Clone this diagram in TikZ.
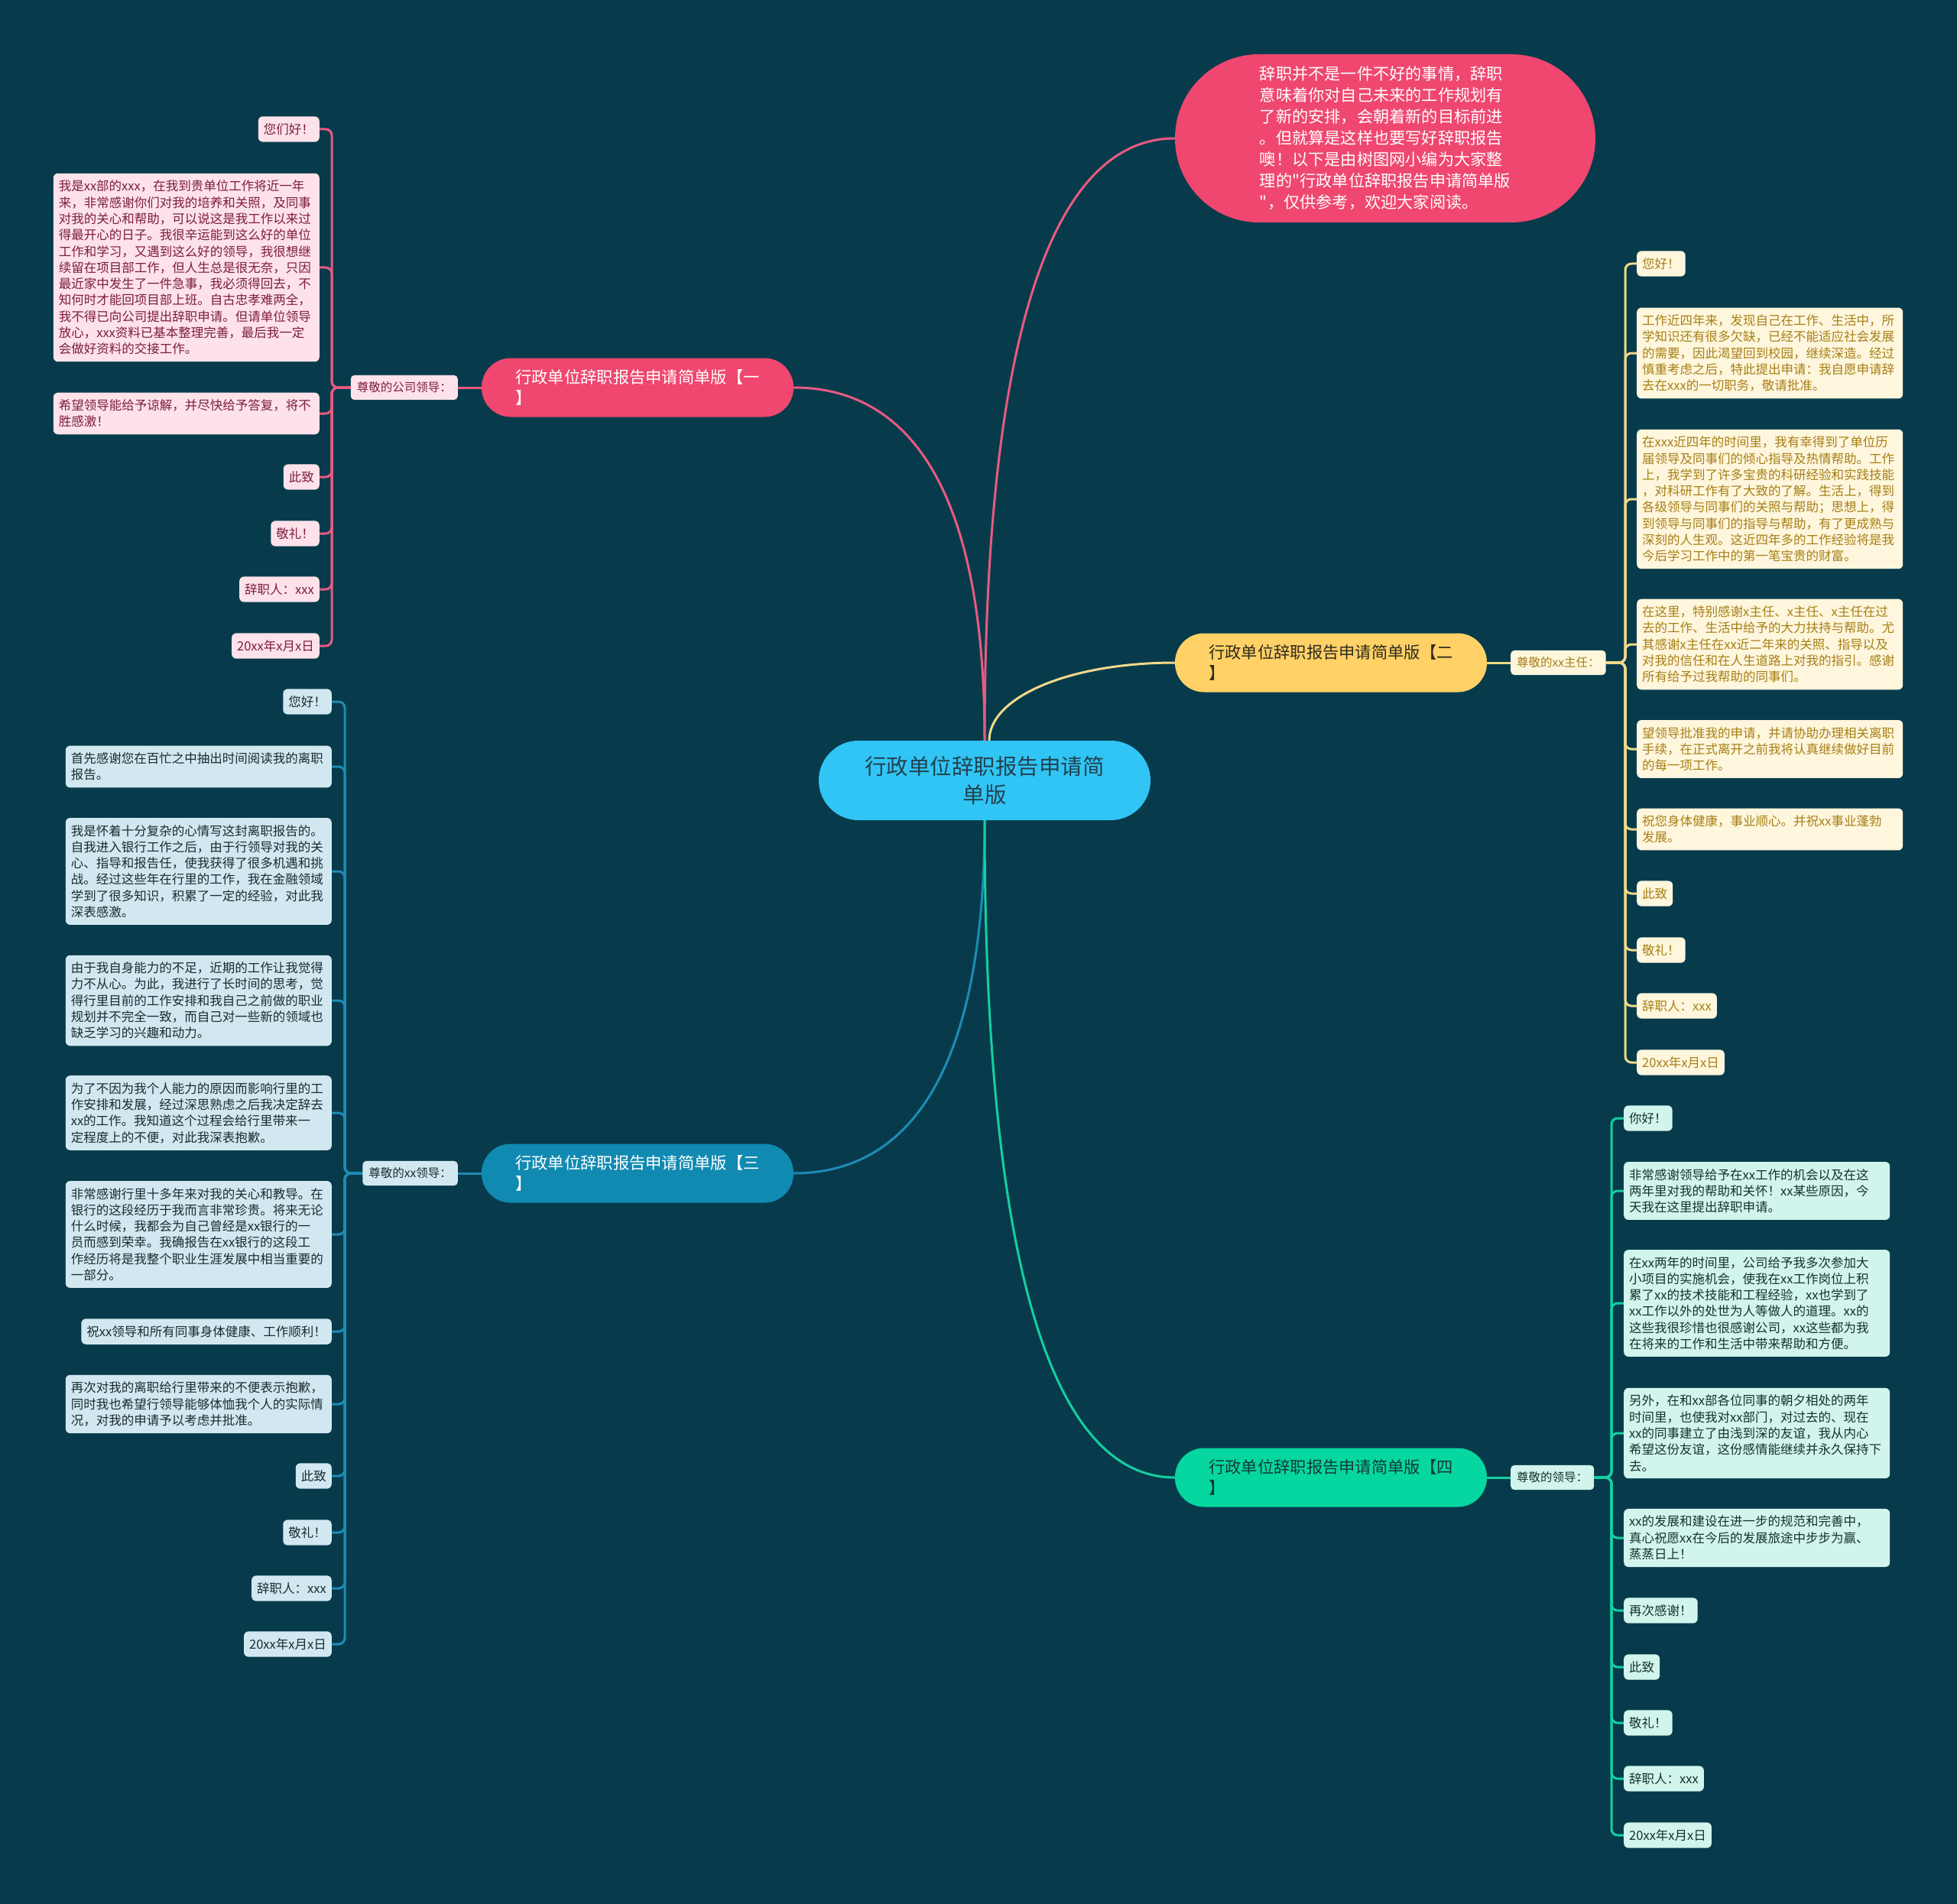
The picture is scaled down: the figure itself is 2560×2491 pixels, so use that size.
\documentclass[tikz,border=0pt]{standalone}
\usepackage{fontspec}
\setmainfont{Noto Sans CJK SC}
\newfontfamily\cjkraw{Noto Sans CJK SC}
\usetikzlibrary{backgrounds}
\definecolor{bgc}{HTML}{073B4C}
\definecolor{redc}{HTML}{EF476F}
\definecolor{yelc}{HTML}{FFD166}
\definecolor{bluc}{HTML}{118AB2}
\definecolor{grnc}{HTML}{06D6A0}
\definecolor{cenc}{HTML}{30C5F5}
\definecolor{centext}{HTML}{22424F}
\definecolor{pinkfill}{HTML}{FDE2E9}
\definecolor{pinktext}{HTML}{7D1E3C}
\definecolor{pinkline}{HTML}{E85A80}
\definecolor{yelfill}{HTML}{FFF6DE}
\definecolor{yeltext}{HTML}{A67F14}
\definecolor{yelline}{HTML}{F2D98A}
\definecolor{blufill}{HTML}{D2E8F0}
\definecolor{blutext}{HTML}{1B2A33}
\definecolor{bluline}{HTML}{1D8CB5}
\definecolor{grnfill}{HTML}{D1F5EC}
\definecolor{grntext}{HTML}{17302B}
\definecolor{grnline}{HTML}{14CFA0}
\definecolor{btwotext}{HTML}{2E2A1E}
\definecolor{bfourtext}{HTML}{163A33}
\newcommand\leaffont{\fontsize{16.5pt}{21.3pt}\selectfont}
\newcommand\tagfont{\fontsize{15.5pt}{19pt}\selectfont}
\newcommand\branchfont{\fontsize{21.3pt}{27pt}\selectfont}
\newcommand\centerfont{\fontsize{28.5pt}{37pt}\selectfont}
\newcommand\introfont{\fontsize{21.2pt}{28pt}\selectfont}
\newcommand\sq{{\cjkraw "}}
\begin{document}
\begin{tikzpicture}[x=1pt,y=-1pt,
  leaf/.style={rectangle, rounded corners=6pt, inner xsep=7pt, inner ysep=9pt, font=\leaffont, align=left},
  wide/.style={text width=334pt},
  pk/.style={leaf, fill=pinkfill, text=pinktext, anchor=east},
  yl/.style={leaf, fill=yelfill, text=yeltext, anchor=west},
  bl/.style={leaf, fill=blufill, text=blutext, anchor=east},
  gr/.style={leaf, fill=grnfill, text=grntext, anchor=west},
  tagbox/.style={rectangle, rounded corners=5pt, inner xsep=8pt, inner ysep=9pt, font=\tagfont},
  branch/.style={rectangle, rounded corners=38pt, minimum width=408pt, minimum height=77pt, align=left, font=\branchfont},
  pkedge/.style={draw=pinkline, line width=3pt, rounded corners=8pt},
  yledge/.style={draw=yelline, line width=3pt, rounded corners=8pt},
  bledge/.style={draw=bluline, line width=3pt, rounded corners=8pt},
  gredge/.style={draw=grnline, line width=3pt, rounded corners=8pt},
  curve/.style={line width=3pt}
]
\begin{scope}[on background layer]
\fill[bgc] (0,0) rectangle (2560,2491);
\end{scope}
\useasboundingbox (0,0) rectangle (2560,2491);

% central and main nodes
\node[rectangle, fill=cenc, rounded corners=52pt, minimum width=434pt, minimum height=104pt, align=center, font=\centerfont, text=centext] (c) at (1288,1021) {行政单位辞职报告申请简\\单版};
\node[rectangle, fill=redc, rounded corners=110pt, minimum width=550pt, minimum height=220pt, align=left, font=\introfont, text=white] (i) at (1812,181) {辞职并不是一件不好的事情，辞职\\意味着你对自己未来的工作规划有\\了新的安排，会朝着新的目标前进\\。但就算是这样也要写好辞职报告\\噢！以下是由树图网小编为大家整\\理的\sq 行政单位辞职报告申请简单版\\\sq，仅供参考，欢迎大家阅读。};
\node[branch, fill=redc, text=white] (b1) at (834,507) {行政单位辞职报告申请简单版【一\\】};
\node[branch, fill=yelc, text=btwotext] (b2) at (1741,867) {行政单位辞职报告申请简单版【二\\】};
\node[branch, fill=bluc, text=white] (b3) at (834,1535) {行政单位辞职报告申请简单版【三\\】};
\node[branch, fill=grnc, text=bfourtext] (b4) at (1741,1933) {行政单位辞职报告申请简单版【四\\】};

% tags
\node[tagbox, fill=pinkfill, text=pinktext, anchor=east] (t1) at (599,507) {尊敬的公司领导：};
\node[tagbox, fill=yelfill, text=yeltext, anchor=west] (t2) at (1976,867) {尊敬的xx主任：};
\node[tagbox, fill=blufill, text=blutext, anchor=east] (t3) at (599,1535) {尊敬的xx领导：};
\node[tagbox, fill=grnfill, text=grntext, anchor=west] (t4) at (1976,1933) {尊敬的领导：};

\coordinate (s1) at (434,507);
\coordinate (s2) at (2126,867);
\coordinate (s3) at (451,1535);
\coordinate (s4) at (2108,1933);

% branch 1 leaves
\node[pk] (p1) at (418,169) {您们好！};
\node[pk, wide] (p2) at (418,350) {我是xx部的xxx，在我到贵单位工作将近一年\\来，非常感谢你们对我的培养和关照，及同事\\对我的关心和帮助，可以说这是我工作以来过\\得最开心的日子。我很辛运能到这么好的单位\\工作和学习，又遇到这么好的领导，我很想继\\续留在项目部工作，但人生总是很无奈，只因\\最近家中发生了一件急事，我必须得回去，不\\知何时才能回项目部上班。自古忠孝难两全，\\我不得已向公司提出辞职申请。但请单位领导\\放心，xxx资料已基本整理完善，最后我一定\\会做好资料的交接工作。};
\node[pk, wide] (p3) at (418,541) {希望领导能给予谅解，并尽快给予答复，将不\\胜感激！};
\node[pk] (p4) at (418,624) {此致};
\node[pk] (p5) at (418,698) {敬礼！};
\node[pk] (p6) at (418,771) {辞职人：xxx};
\node[pk] (p7) at (418,845) {20xx年x月x日};

% branch 2 leaves
\node[yl] (y1) at (2141,345) {您好！};
\node[yl, wide] (y2) at (2141,462) {工作近四年来，发现自己在工作、生活中，所\\学知识还有很多欠缺，已经不能适应社会发展\\的需要，因此渴望回到校园，继续深造。经过\\慎重考虑之后，特此提出申请：我自愿申请辞\\去在xxx的一切职务，敬请批准。};
\node[yl, wide] (y3) at (2141,653) {在xxx近四年的时间里，我有幸得到了单位历\\届领导及同事们的倾心指导及热情帮助。工作\\上，我学到了许多宝贵的科研经验和实践技能\\，对科研工作有了大致的了解。生活上，得到\\各级领导与同事们的关照与帮助；思想上，得\\到领导与同事们的指导与帮助，有了更成熟与\\深刻的人生观。这近四年多的工作经验将是我\\今后学习工作中的第一笔宝贵的财富。};
\node[yl, wide] (y4) at (2141,843) {在这里，特别感谢x主任、x主任、x主任在过\\去的工作、生活中给予的大力扶持与帮助。尤\\其感谢x主任在xx近二年来的关照、指导以及\\对我的信任和在人生道路上对我的指引。感谢\\所有给予过我帮助的同事们。};
\node[yl, wide] (y5) at (2141,980) {望领导批准我的申请，并请协助办理相关离职\\手续，在正式离开之前我将认真继续做好目前\\的每一项工作。};
\node[yl, wide] (y6) at (2141,1085) {祝您身体健康，事业顺心。并祝xx事业蓬勃\\发展。};
\node[yl] (y7) at (2141,1169) {此致};
\node[yl] (y8) at (2141,1243) {敬礼！};
\node[yl] (y9) at (2141,1316) {辞职人：xxx};
\node[yl] (y10) at (2141,1390) {20xx年x月x日};

% branch 3 leaves
\node[bl] (q1) at (434,918) {您好！};
\node[bl, wide] (q2) at (434,1003) {首先感谢您在百忙之中抽出时间阅读我的离职\\报告。};
\node[bl, wide] (q3) at (434,1140) {我是怀着十分复杂的心情写这封离职报告的。\\自我进入银行工作之后，由于行领导对我的关\\心、指导和报告任，使我获得了很多机遇和挑\\战。经过这些年在行里的工作，我在金融领域\\学到了很多知识，积累了一定的经验，对此我\\深表感激。};
\node[bl, wide] (q4) at (434,1309) {由于我自身能力的不足，近期的工作让我觉得\\力不从心。为此，我进行了长时间的思考，觉\\得行里目前的工作安排和我自己之前做的职业\\规划并不完全一致，而自己对一些新的领域也\\缺乏学习的兴趣和动力。};
\node[bl, wide] (q5) at (434,1456) {为了不因为我个人能力的原因而影响行里的工\\作安排和发展，经过深思熟虑之后我决定辞去\\xx的工作。我知道这个过程会给行里带来一\\定程度上的不便，对此我深表抱歉。};
\node[bl, wide] (q6) at (434,1615) {非常感谢行里十多年来对我的关心和教导。在\\银行的这段经历于我而言非常珍贵。将来无论\\什么时候，我都会为自己曾经是xx银行的一\\员而感到荣幸。我确报告在xx银行的这段工\\作经历将是我整个职业生涯发展中相当重要的\\一部分。};
\node[bl] (q7) at (434,1742) {祝xx领导和所有同事身体健康、工作顺利！};
\node[bl, wide] (q8) at (434,1837) {再次对我的离职给行里带来的不便表示抱歉，\\同时我也希望行领导能够体恤我个人的实际情\\况，对我的申请予以考虑并批准。};
\node[bl] (q9) at (434,1931) {此致};
\node[bl] (q10) at (434,2005) {敬礼！};
\node[bl] (q11) at (434,2078) {辞职人：xxx};
\node[bl] (q12) at (434,2151) {20xx年x月x日};

% branch 4 leaves
\node[gr] (g1) at (2124,1463) {你好！};
\node[gr, wide] (g2) at (2124,1558) {非常感谢领导给予在xx工作的机会以及在这\\两年里对我的帮助和关怀！xx某些原因，今\\天我在这里提出辞职申请。};
\node[gr, wide] (g3) at (2124,1705) {在xx两年的时间里，公司给予我多次参加大\\小项目的实施机会，使我在xx工作岗位上积\\累了xx的技术技能和工程经验，xx也学到了\\xx工作以外的处世为人等做人的道理。xx的\\这些我很珍惜也很感谢公司，xx这些都为我\\在将来的工作和生活中带来帮助和方便。};
\node[gr, wide] (g4) at (2124,1875) {另外，在和xx部各位同事的朝夕相处的两年\\时间里，也使我对xx部门，对过去的、现在\\xx的同事建立了由浅到深的友谊，我从内心\\希望这份友谊，这份感情能继续并永久保持下\\去。};
\node[gr, wide] (g5) at (2124,2012) {xx的发展和建设在进一步的规范和完善中，\\真心祝愿xx在今后的发展旅途中步步为赢、\\蒸蒸日上！};
\node[gr] (g6) at (2124,2107) {再次感谢！};
\node[gr] (g7) at (2124,2181) {此致};
\node[gr] (g8) at (2124,2254) {敬礼！};
\node[gr] (g9) at (2124,2327) {辞职人：xxx};
\node[gr] (g10) at (2124,2401) {20xx年x月x日};

\begin{scope}[on background layer]
% main curves
\draw[curve, draw=pinkline] (c.north) .. controls +(0,-630) and +(-125,0) .. (i.west);
\draw[curve, draw=pinkline] (c.north) .. controls +(0,-370) and +(125,0) .. (b1.east);
\draw[curve, draw=yelline] ([xshift=6pt]c.north) .. controls +(0,-57) and +(-138,0) .. (b2.west);
\draw[curve, draw=bluline] (c.south) .. controls +(0,370) and +(125,0) .. (b3.east);
\draw[curve, draw=grnline] (c.south) .. controls +(0,690) and +(-125,0) .. (b4.west);
% branch to tag
\draw[pkedge] (b1.west) -- (t1.east);
\draw[yledge] (b2.east) -- (t2.west);
\draw[bledge] (b3.west) -- (t3.east);
\draw[gredge] (b4.east) -- (t4.west);
% tag to leaves
\foreach \n in {p1,p2,p3,p4,p5,p6,p7}{\draw[pkedge] (t1.west) -- (s1) |- (\n.east);}
\foreach \n in {y1,y2,y3,y4,y5,y6,y7,y8,y9,y10}{\draw[yledge] (t2.east) -- (s2) |- (\n.west);}
\foreach \n in {q1,q2,q3,q4,q5,q6,q7,q8,q9,q10,q11,q12}{\draw[bledge] (t3.west) -- (s3) |- (\n.east);}
\foreach \n in {g1,g2,g3,g4,g5,g6,g7,g8,g9,g10}{\draw[gredge] (t4.east) -- (s4) |- (\n.west);}
\end{scope}
\end{tikzpicture}
\end{document}
